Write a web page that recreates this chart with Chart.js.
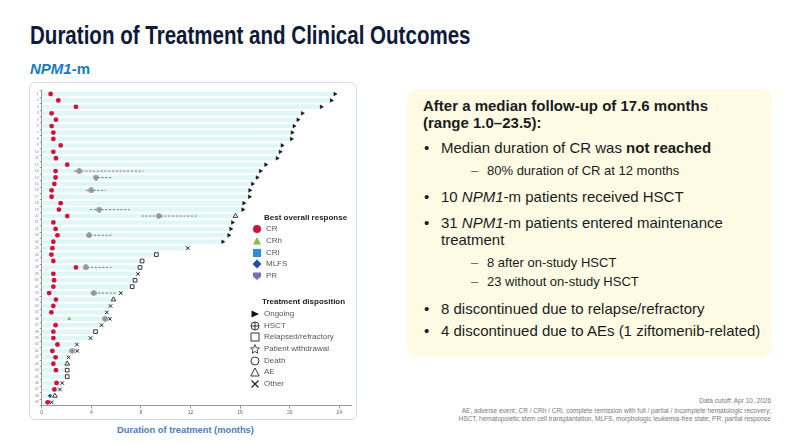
<!DOCTYPE html>
<html lang="en">
<head>
<meta charset="UTF-8" />
<script src="https://cdn.jsdelivr.net/npm/chart.js@4.4.0/dist/chart.umd.min.js"></script>
<title>Duration of Treatment and Clinical Outcomes</title>
<style>
  body { margin: 0; background: #fff; font-family: "Liberation Sans", Arial, sans-serif; }
  #slide { position: relative; width: 800px; height: 445px; overflow: hidden; }
  .abs { position: absolute; white-space: nowrap; line-height: 1; }
  #title { left: 30px; top: 22px; font-size: 26px; font-weight: bold; color: #0e1a3a; transform: scaleX(0.79); transform-origin: left top; }
  #subtitle { left: 30px; top: 61px; font-size: 15px; font-weight: bold; color: #1a7ac0; }
  #panel { position: absolute; left: 29px; top: 82px; width: 326px; height: 336px; border: 1px solid #cfdbe6; border-radius: 6px; }
  #chartBox { position: absolute; left: 28px; top: 83px; width: 330px; height: 340px; }
  #xTitle { left: 117px; top: 426px; font-size: 9.3px; font-weight: bold; color: #4a7bbd; }
  .legHead { font-size: 8px; font-weight: bold; color: #222; }
  .legItem { font-size: 8px; color: #555; }
  .legItem svg { position: absolute; left: -14px; top: -1px; }
  #box { position: absolute; left: 407px; top: 89px; width: 365px; height: 268px; background: #fdfbe4; border-radius: 10px; }
  .bx { color: #1b1b1b; font-size: 15px; }
  .sub { color: #1b1b1b; font-size: 13px; }
  .foot { right: 29px; font-size: 6.5px; color: #777; }
</style>
</head>
<body>
<div id="slide">
  <div id="title" class="abs">Duration of Treatment and Clinical Outcomes</div>
  <div id="subtitle" class="abs"><i>NPM1</i>-m</div>

  <div id="panel"></div>
  <div id="chartBox"><canvas id="myChart"></canvas></div>
  <div id="legend"></div>
  <div id="xTitle" class="abs">Duration of treatment (months)</div>

  <div id="box"></div>
  <div class="abs bx" style="left:423px;top:98px;font-weight:bold">After a median follow-up of 17.6 months</div>
  <div class="abs bx" style="left:423px;top:115px;font-weight:bold">(range 1.0–23.5):</div>
  <div class="abs bx" style="left:424px;top:140px">•</div>
  <div class="abs bx" style="left:441px;top:140px">Median duration of CR was <b>not reached</b></div>
  <div class="abs sub" style="left:471px;top:164px;color:#666">–</div>
  <div class="abs sub" style="left:487px;top:164px">80% duration of CR at 12 months</div>
  <div class="abs bx" style="left:424px;top:189px">•</div>
  <div class="abs bx" style="left:441px;top:189px">10 <i>NPM1</i>-m patients received HSCT</div>
  <div class="abs bx" style="left:424px;top:215px">•</div>
  <div class="abs bx" style="left:441px;top:215px">31 <i>NPM1</i>-m patients entered maintenance</div>
  <div class="abs bx" style="left:441px;top:231.5px">treatment</div>
  <div class="abs sub" style="left:471px;top:255.5px;color:#666">–</div>
  <div class="abs sub" style="left:487px;top:255.5px">8 after on-study HSCT</div>
  <div class="abs sub" style="left:471px;top:275px;color:#666">–</div>
  <div class="abs sub" style="left:487px;top:275px">23 without on-study HSCT</div>
  <div class="abs bx" style="left:424px;top:301px">•</div>
  <div class="abs bx" style="left:441px;top:301px">8 discontinued due to relapse/refractory</div>
  <div class="abs bx" style="left:424px;top:323px">•</div>
  <div class="abs bx" style="left:441px;top:323px">4 discontinued due to AEs (1 ziftomenib-related)</div>

  <div class="abs foot" style="top:397.5px">Data cutoff: Apr 10, 2026</div>
  <div class="abs foot" style="top:408px">AE, adverse event; CR / CRh / CRi, complete remission with full / partial / incomplete hematologic recovery;</div>
  <div class="abs foot" style="top:415.5px">HSCT, hematopoietic stem cell transplantation, MLFS, morphologic leukemia-free state; PR, partial response</div>
</div>

<script>
  // one row per patient, top to bottom
  const patients = ["1","2","3","4","5","6","7","8","9","10","11","12","13","14","15","16","17","18","19","20",
    "21","22","23","24","25","26","27","28","29","30","31","32","33","34","35","36","37","38","39","40",
    "41","42","43","44","45","46","47","48","49"];
  // months on treatment
  const duration = [23.65, 23.36, 22.55, 21.02, 20.67, 20.35, 20.2, 20.14, 19.39, 19.23,
    18.99, 18.07, 17.64, 17.38, 17.0, 16.78, 16.76, 16.3, 16.22, 15.63,
    15.39, 15.25, 15.09, 14.61, 11.78, 9.25, 8.1, 7.93, 7.77, 7.53,
    7.3, 6.38, 5.79, 5.55, 5.25, 5.5, 4.83, 4.34, 3.94, 2.84,
    2.87, 2.17, 2.06, 2.06, 2.06, 1.66, 1.47, 1.07, 0.8];
  const disposition = ["Ongoing","Ongoing","Ongoing","Ongoing","Ongoing","Ongoing","Ongoing","Ongoing","Ongoing","Ongoing",
    "Ongoing","Ongoing","Ongoing","Ongoing","Ongoing","Ongoing","Ongoing","Ongoing","Ongoing","AE",
    "Ongoing","Ongoing","Ongoing","Ongoing","Other","Relapsed","Relapsed","Relapsed","Other","Relapsed",
    "Relapsed","Other","AE","Other","Other","Other","Other","Relapsed","Other","Other",
    "Other","Other","AE","Relapsed","Relapsed","Other","Other","AE","Other"];
  // best overall response and when it was reached
  const response = ["CR","CR","CR","CR","CR","CR","CR","CR","CR","CR",
    "CR","CR","CR","CR","CR","CR","CR","CR","CR","CR",
    "CR","CR","CR","CR","CR","CR","CR","CR","CR","CR",
    "CR","CR","CR","CR","CR","CRh","CR","CR","CR","CR",
    "CR","CR","CR","CR",null,"CR","CR","MLFS","CR"];
  const responseTime = [0.72, 1.34, 2.76, 0.8, 1.15, 0.8, 0.94, 0.94, 1.53, 0.94,
    1.15, 2.06, 1.12, 1.12, 1.02, 0.8, 0.8, 1.53, 1.39, 2.06,
    0.94, 1.12, 1.27, 0.94, 0.86, 0.78, 0.94, 2.76, 0.94, 1.0,
    0.94, 0.6, 1.15, 0.94, 0.78, 2.22, 1.12, 0.94, 0.94, 1.27,
    0.86, 1.12, 0.94, 1.15, null, 1.2, 1.02, 0.67, 0.48];
  // transplants: patient, month, interruption around it
  const hsctPatient = ["13","14","16","19","20","23","28","32","36","41"];
  const hsctTime = [3.03, 4.37, 4.0, 4.64, 9.44, 3.83, 3.56, 4.2, 5.1, 2.46];
  const gapStart = [2.6, 4.2, 3.56, 3.89, 8.05, 3.6, 3.35, 3.94, null, null];
  const gapEnd = [8.2, 5.6, 5.17, 7.1, 12.6, 5.76, 5.63, 6.0, null, null];

  const xTicks = [0, 4, 8, 12, 16, 20, 24];
  const responseLabels = ["CR", "CRh", "CRi", "MLFS", "PR"];
  const dispositionLabels = ["Ongoing", "HSCT", "Relapsed/refractory", "Patient withdrawal", "Death", "AE", "Other"];

  function hsctIcon(size) {
    const c = document.createElement("canvas");
    c.width = c.height = size;
    const g = c.getContext("2d");
    const m = size / 2;
    g.beginPath();
    g.arc(m, m, m - 0.6, 0, Math.PI * 2);
    g.fillStyle = "#b9b9b9";
    g.fill();
    g.strokeStyle = "#7a7a7a";
    g.lineWidth = 0.7;
    g.stroke();
    g.beginPath();
    g.moveTo(m, 0.6); g.lineTo(m, size - 0.6);
    g.moveTo(0.6, m); g.lineTo(size - 0.6, m);
    g.stroke();
    return c;
  }

  function endPoints(kind) {
    const pts = [];
    patients.forEach((p, i) => { if (disposition[i] === kind) pts.push({ x: duration[i], y: p }); });
    return pts;
  }
  function respPoints(kind) {
    const pts = [];
    patients.forEach((p, i) => { if (response[i] === kind) pts.push({ x: responseTime[i], y: p }); });
    return pts;
  }
  function markers(data, style) {
    return Object.assign({ type: "line", indexAxis: "y", data: data, showLine: false, order: 1 }, style);
  }

  const datasets = [{
    type: "bar",
    data: duration,
    backgroundColor: "#e0f7f8",
    borderWidth: 0,
    barPercentage: 0.7,
    categoryPercentage: 1,
    order: 10
  }];

  hsctPatient.forEach((p, i) => {
    if (gapStart[i] === null) return;
    datasets.push({
      type: "line", indexAxis: "y",
      data: [{ x: gapStart[i], y: p }, { x: gapEnd[i], y: p }],
      borderColor: "#7d7d7d", borderWidth: 1, borderDash: [2.2, 1.6],
      pointRadius: 0, order: 5
    });
  });

  datasets.push(markers(respPoints("CR"), { pointStyle: "circle", pointRadius: 2.4, pointBackgroundColor: "#d3123c", pointBorderWidth: 0 }));
  datasets.push(markers(respPoints("CRh"), { pointStyle: "triangle", pointRadius: 2.4, pointBackgroundColor: "#7cbf4a", pointBorderWidth: 0 }));
  datasets.push(markers(respPoints("MLFS"), { pointStyle: "rectRot", pointRadius: 2.2, pointBackgroundColor: "#1f4e9c", pointBorderWidth: 0 }));
  datasets.push(markers(hsctPatient.map((p, i) => ({ x: hsctTime[i], y: p })), { pointStyle: hsctIcon(6), pointRadius: 3 }));
  datasets.push(markers(endPoints("Ongoing"), { pointStyle: "triangle", pointRotation: 90, pointRadius: 2.1, pointBackgroundColor: "#111", pointBorderColor: "#111", pointBorderWidth: 0.5 }));
  datasets.push(markers(endPoints("Relapsed"), { pointStyle: "rect", pointRadius: 2.6, pointBackgroundColor: "#fff", pointBorderColor: "#222", pointBorderWidth: 0.9 }));
  datasets.push(markers(endPoints("AE"), { pointStyle: "triangle", pointRadius: 2.7, pointBackgroundColor: "#fff", pointBorderColor: "#222", pointBorderWidth: 0.9 }));
  datasets.push(markers(endPoints("Other"), { pointStyle: "crossRot", pointRadius: 2.5, pointBorderColor: "#222", pointBorderWidth: 1 }));

  new Chart(document.getElementById("myChart"), {
    type: "bar",
    data: { labels: patients, datasets: datasets },
    options: {
      indexAxis: "y",
      responsive: true,
      maintainAspectRatio: false,
      animation: false,
      events: [],
      layout: { padding: { top: 7.8, right: 6.3, left: 0, bottom: 0 } },
      plugins: { legend: { display: false }, tooltip: { enabled: false } },
      scales: {
        x: {
          type: "linear", min: 0, max: 25,
          afterFit: s => { s.height = 17.5; },
          afterBuildTicks: s => { s.ticks = xTicks.map(v => ({ value: v })); },
          ticks: { font: { size: 5 }, color: "#666", padding: 1 },
          grid: { drawOnChartArea: false, drawTicks: true, tickLength: 3, color: "#999" },
          border: { color: "#999" }
        },
        y: {
          type: "category",
          afterFit: s => { s.width = 13.7; },
          ticks: { autoSkip: false, font: { size: 3.6 }, color: "#888", padding: 1 },
          grid: { drawOnChartArea: false, drawTicks: true, tickLength: 2, color: "#999" },
          border: { color: "#999" }
        }
      }
    }
  });

  // legend inside the chart panel
  const icons = {
    "CR": '<circle cx="5" cy="5" r="4" fill="#d3123c"/>',
    "CRh": '<path d="M5 1 L9 8.5 L1 8.5 Z" fill="#7cbf4a"/>',
    "CRi": '<rect x="1" y="1" width="8" height="8" fill="#2a8fe0"/>',
    "MLFS": '<path d="M5 0.5 L9.5 5 L5 9.5 L0.5 5 Z" fill="#1f4e9c"/>',
    "PR": '<path d="M1 1.5 L9 1.5 L9 5.5 L5 9 L1 5.5 Z" fill="#7a6bb8"/>',
    "Ongoing": '<path d="M1.5 1.5 L9 5 L1.5 8.5 Z" fill="#111"/>',
    "HSCT": '<circle cx="5" cy="5" r="4" fill="none" stroke="#222" stroke-width="0.9"/><path d="M5 1 V9 M1 5 H9" stroke="#222" stroke-width="0.9"/>',
    "Relapsed/refractory": '<rect x="1" y="1" width="8" height="8" fill="none" stroke="#222" stroke-width="0.9"/>',
    "Patient withdrawal": '<path d="M5 0.6 L6.2 3.7 L9.5 3.9 L7 6 L7.8 9.3 L5 7.5 L2.2 9.3 L3 6 L0.5 3.9 L3.8 3.7 Z" fill="none" stroke="#222" stroke-width="0.8"/>',
    "Death": '<circle cx="5" cy="5" r="4" fill="none" stroke="#222" stroke-width="0.9"/>',
    "AE": '<path d="M5 1 L9.2 9 L0.8 9 Z" fill="none" stroke="#222" stroke-width="0.9"/>',
    "Other": '<path d="M1.5 1.5 L8.5 8.5 M8.5 1.5 L1.5 8.5" stroke="#222" stroke-width="1.2"/>'
  };
  let html = '<div class="abs legHead" style="left:264px;top:214px">Best overall response</div>';
  const respY = [224.5, 236.5, 248.5, 260, 271.5];
  responseLabels.forEach((lab, i) => {
    html += '<div class="abs legItem" style="left:266px;top:' + respY[i] + 'px"><svg width="10" height="10" viewBox="0 0 10 10">' + icons[lab] + '</svg>' + lab + '</div>';
  });
  html += '<div class="abs legHead" style="left:262px;top:298px">Treatment disposition</div>';
  const dispY = [310, 321.7, 333.3, 345, 356.5, 368, 379.7];
  dispositionLabels.forEach((lab, i) => {
    html += '<div class="abs legItem" style="left:264px;top:' + dispY[i] + 'px"><svg width="10" height="10" viewBox="0 0 10 10">' + icons[lab] + '</svg>' + lab + '</div>';
  });
  document.getElementById("legend").innerHTML = html;
</script>
</body>
</html>
